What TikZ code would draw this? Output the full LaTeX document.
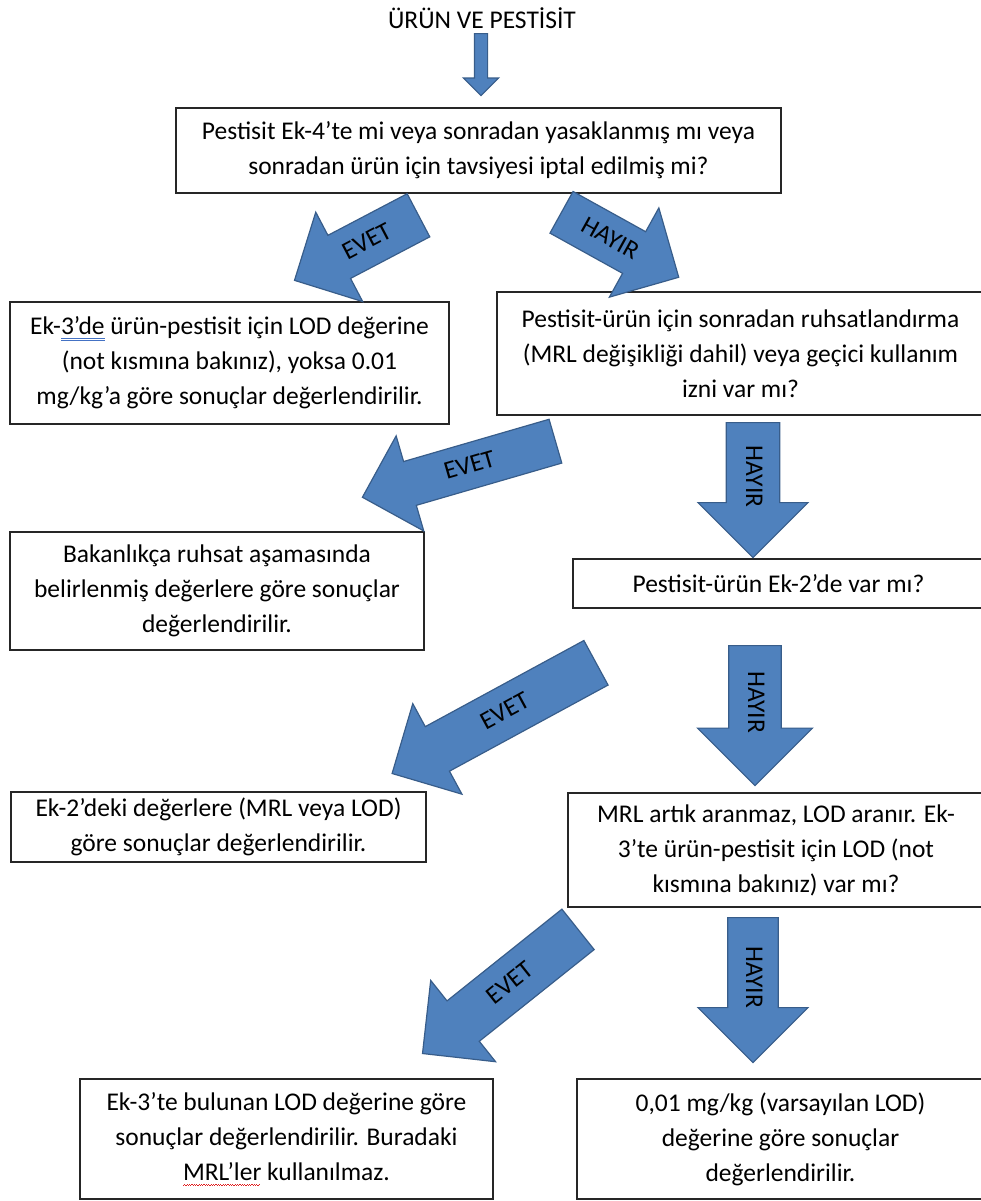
\documentclass[tikz,border=0pt]{standalone}
\usepackage{fontspec}
\setmainfont{Carlito}
\usetikzlibrary{shapes.arrows}

\definecolor{arrowfill}{HTML}{4F81BD}
\definecolor{arrowline}{HTML}{385D8A}
\definecolor{markblue}{HTML}{4472C4}
\definecolor{markred}{HTML}{E02020}

\newsavebox\markbox
\newcommand{\blueul}[1]{\sbox\markbox{#1}\rlap{\color{markblue}\rule[-2pt]{\wd\markbox}{0.35pt}\llap{\rule[-3pt]{\wd\markbox}{0.35pt}}}#1}
\newcommand{\redul}[1]{\sbox\markbox{#1}\rlap{\color{markred}\raisebox{-3pt}{\hbox to \wd\markbox{\leaders\hbox{\rule{0.6pt}{0.4pt}\raisebox{0.5pt}{\rule{0.6pt}{0.4pt}}}\hfill}}}#1}

\tikzset{
	box/.style={draw=black!85, line width=1pt, align=center, inner sep=0pt, font=\fontsize{12.75}{17.5}\selectfont},
	block arrow/.style={single arrow, draw=arrowline, fill=arrowfill, line width=0.6pt, inner xsep=0pt, text height=0.7em, text depth=0pt, single arrow tip angle=90, font=\fontsize{12.75}{13}\selectfont},
}

\begin{document}
\begin{tikzpicture}[x=0.5pt, y=0.5pt]
	\useasboundingbox (0,0) rectangle (981,-1201);
	\clip (0,0) rectangle (981,-1201);
	
	\node [font=\fontsize{12.75}{15}\selectfont] (title) at (482,-18) {ÜRÜN VE PESTİSİT};
	
	\node [box, minimum width=302.5pt, minimum height=42.5pt] (q1) at (478.5,-150.5) {Pestisit Ek-4’te mi veya sonradan yasaklanmış mı veya\\sonradan ürün için tavsiyesi iptal edilmiş mi?};
	\node [box, minimum width=219.5pt, minimum height=61pt] (r1) at (229.5,-363) {Ek-\blueul{3’de} ürün-pestisit için LOD değerine\\(not kısmına bakınız), yoksa 0.01\\mg/kg’a göre sonuçlar değerlendirilir.};
	\node [box, minimum width=243.5pt, minimum height=61.5pt] (q2) at (740.5,-353.5) {Pestisit-ürün için sonradan ruhsatlandırma\\(MRL değişikliği dahil) veya geçici kullanım\\izni var mı?};
	\node [box, minimum width=207pt, minimum height=59pt] (r2) at (217,-591) {Bakanlıkça ruhsat aşamasında\\belirlenmiş değerlere göre sonuçlar\\değerlendirilir.};
	\node [box, minimum width=205.5pt, minimum height=24.5pt] (q3) at (778.5,-583.5) {Pestisit-ürün Ek-2’de var mı?};
	\node [box, minimum width=207.5pt, minimum height=35pt] (r3) at (218.5,-827) {Ek-2’deki değerlere (MRL veya LOD)\\göre sonuçlar değerlendirilir.};
	\node [box, minimum width=208pt, minimum height=57pt] (q4) at (776,-850) {MRL artık aranmaz, LOD aranır. Ek-\\3’te ürün-pestisit için LOD (not\\kısmına bakınız) var mı?};
	\node [box, minimum width=206.5pt, minimum height=60pt] (r4) at (286.5,-1139) {Ek-3’te bulunan LOD değerine göre\\sonuçlar değerlendirilir. Buradaki\\\redul{MRL’ler} kullanılmaz.};
	\node [box, minimum width=203.5pt, minimum height=60pt] (r5) at (780.5,-1139) {0,01 mg/kg (varsayılan LOD)\\değerine göre sonuçlar\\değerlendirilir.};
	
	% down arrow under the title
	\node [block arrow, rotate=-90, anchor=tail, text height=0pt, inner ysep=3pt, minimum height=31pt, minimum width=17pt, single arrow head extend=5.5pt] (down) at (481,-33) {};
	
	% evet arrows
	\foreach \m/\x/\y/\a/\l/\w/\s/\e in {1/419/215/27.7/70pt/50.5pt/8.05pt/12.75pt, 2/556/441/16.2/100.5pt/49.5pt/7.3pt/13pt, 3/596.5/662.5/28.5/116pt/51.5pt/8.55pt/12.75pt, 4/578.5/929/38.6/99.5pt/52pt/8.8pt/12.75pt}
	\node [block arrow, shape border rotate=180, rotate=\a, anchor=tail, minimum height=\l, minimum width=\w, inner ysep=\s, single arrow head extend=\e] (evet-\m) at (\x,-\y) {EVET};
	
	% hayir arrows
	\foreach \m/\x/\y/\a/\l/\w/\s/\e in {1/561/212/-29/67pt/51pt/7.8pt/13.25pt, 2/753/422/-90/67.5pt/55pt/9.3pt/13.75pt, 3/755/645/-90/70pt/57.5pt/9.05pt/15.25pt, 4/753/917/-90/72.5pt/55pt/8.55pt/14.5pt}
	\node [block arrow, rotate=\a, anchor=tail, minimum height=\l, minimum width=\w, inner ysep=\s, single arrow head extend=\e] (hayir-\m) at (\x,-\y) {HAYIR};
\end{tikzpicture}
\end{document}
